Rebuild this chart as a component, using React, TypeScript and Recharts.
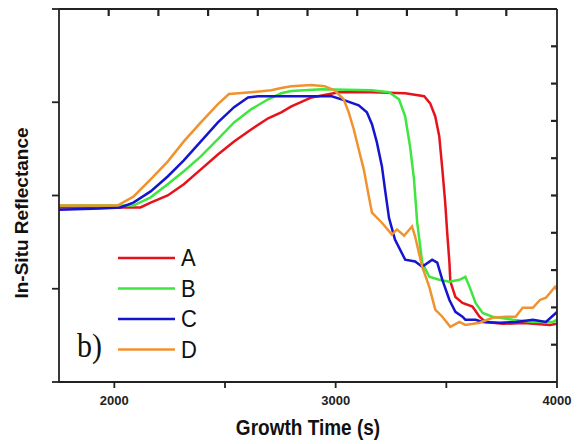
import React from "react";
import { LineChart, Line, XAxis, YAxis } from "recharts";

// growth time (s) vs in-situ reflectance (arb. units)
const seriesA = [
  { t: 1750, r: 4.68 }, { t: 2000, r: 4.68 }, { t: 2118, r: 4.68 }, { t: 2164, r: 4.81 },
  { t: 2241, r: 5.0 }, { t: 2314, r: 5.3 }, { t: 2391, r: 5.7 }, { t: 2468, r: 6.1 },
  { t: 2541, r: 6.45 }, { t: 2618, r: 6.77 }, { t: 2695, r: 7.07 }, { t: 2754, r: 7.23 },
  { t: 2800, r: 7.39 }, { t: 2891, r: 7.63 }, { t: 3014, r: 7.77 }, { t: 3164, r: 7.77 },
  { t: 3314, r: 7.74 }, { t: 3400, r: 7.66 }, { t: 3427, r: 7.47 }, { t: 3450, r: 7.12 },
  { t: 3468, r: 6.59 }, { t: 3482, r: 5.7 }, { t: 3495, r: 4.8 }, { t: 3504, r: 4.0 },
  { t: 3514, r: 3.2 }, { t: 3518, r: 2.7 }, { t: 3541, r: 2.28 }, { t: 3573, r: 2.12 },
  { t: 3618, r: 2.02 }, { t: 3650, r: 1.75 }, { t: 3677, r: 1.61 }, { t: 3755, r: 1.56 },
  { t: 3850, r: 1.58 }, { t: 3968, r: 1.53 }, { t: 4000, r: 1.56 },
];

const seriesB = [
  { t: 1750, r: 4.73 }, { t: 2000, r: 4.73 }, { t: 2086, r: 4.73 }, { t: 2164, r: 4.95 },
  { t: 2241, r: 5.3 }, { t: 2314, r: 5.65 }, { t: 2391, r: 6.05 }, { t: 2468, r: 6.51 },
  { t: 2541, r: 6.96 }, { t: 2618, r: 7.31 }, { t: 2695, r: 7.58 }, { t: 2754, r: 7.74 },
  { t: 2800, r: 7.8 }, { t: 2936, r: 7.85 }, { t: 3164, r: 7.82 }, { t: 3241, r: 7.77 },
  { t: 3286, r: 7.58 }, { t: 3314, r: 7.12 }, { t: 3336, r: 6.32 }, { t: 3354, r: 5.43 },
  { t: 3368, r: 4.3 }, { t: 3391, r: 3.2 }, { t: 3423, r: 2.82 }, { t: 3468, r: 2.74 },
  { t: 3514, r: 2.69 }, { t: 3559, r: 2.74 }, { t: 3586, r: 2.82 }, { t: 3605, r: 2.55 },
  { t: 3632, r: 2.12 }, { t: 3664, r: 1.85 }, { t: 3709, r: 1.75 }, { t: 3741, r: 1.72 },
  { t: 3800, r: 1.67 }, { t: 3891, r: 1.61 }, { t: 3982, r: 1.61 }, { t: 4000, r: 1.67 },
];

const seriesC = [
  { t: 1750, r: 4.62 }, { t: 1936, r: 4.65 }, { t: 2027, r: 4.68 }, { t: 2086, r: 4.81 },
  { t: 2164, r: 5.11 }, { t: 2241, r: 5.51 }, { t: 2314, r: 5.94 }, { t: 2391, r: 6.45 },
  { t: 2468, r: 6.96 }, { t: 2541, r: 7.37 }, { t: 2604, r: 7.63 }, { t: 2650, r: 7.66 },
  { t: 2754, r: 7.66 }, { t: 2859, r: 7.66 }, { t: 2982, r: 7.66 }, { t: 3041, r: 7.55 },
  { t: 3104, r: 7.42 }, { t: 3141, r: 7.23 }, { t: 3164, r: 6.91 }, { t: 3186, r: 6.43 },
  { t: 3209, r: 5.78 }, { t: 3223, r: 5.16 }, { t: 3241, r: 4.4 }, { t: 3268, r: 3.82 },
  { t: 3314, r: 3.28 }, { t: 3359, r: 3.23 }, { t: 3391, r: 3.09 }, { t: 3436, r: 3.28 },
  { t: 3459, r: 3.2 }, { t: 3482, r: 2.74 }, { t: 3514, r: 2.2 }, { t: 3541, r: 1.88 },
  { t: 3573, r: 1.75 }, { t: 3586, r: 1.67 }, { t: 3632, r: 1.67 }, { t: 3664, r: 1.61 },
  { t: 3741, r: 1.59 }, { t: 3813, r: 1.61 }, { t: 3891, r: 1.67 }, { t: 3950, r: 1.61 },
  { t: 3995, r: 1.85 }, { t: 4000, r: 1.88 },
];

const seriesD = [
  { t: 1750, r: 4.73 }, { t: 1936, r: 4.73 }, { t: 2014, r: 4.73 }, { t: 2086, r: 4.97 },
  { t: 2164, r: 5.43 }, { t: 2241, r: 5.91 }, { t: 2314, r: 6.45 }, { t: 2391, r: 6.96 },
  { t: 2468, r: 7.45 }, { t: 2518, r: 7.72 }, { t: 2618, r: 7.77 }, { t: 2709, r: 7.82 },
  { t: 2754, r: 7.88 }, { t: 2800, r: 7.93 }, { t: 2891, r: 7.96 }, { t: 2950, r: 7.93 },
  { t: 2995, r: 7.82 }, { t: 3036, r: 7.58 }, { t: 3059, r: 7.23 }, { t: 3082, r: 6.77 },
  { t: 3104, r: 6.24 }, { t: 3127, r: 5.7 }, { t: 3150, r: 4.97 }, { t: 3164, r: 4.54 },
  { t: 3209, r: 4.27 }, { t: 3254, r: 3.95 }, { t: 3277, r: 4.09 }, { t: 3309, r: 3.92 },
  { t: 3345, r: 4.17 }, { t: 3359, r: 3.9 }, { t: 3391, r: 3.09 }, { t: 3423, r: 2.55 },
  { t: 3450, r: 1.94 }, { t: 3482, r: 1.75 }, { t: 3518, r: 1.48 }, { t: 3559, r: 1.61 },
  { t: 3586, r: 1.53 }, { t: 3650, r: 1.59 }, { t: 3709, r: 1.72 }, { t: 3768, r: 1.75 },
  { t: 3813, r: 1.75 }, { t: 3845, r: 1.99 }, { t: 3891, r: 1.99 }, { t: 3923, r: 2.2 },
  { t: 3950, r: 2.26 }, { t: 3991, r: 2.55 }, { t: 4000, r: 2.47 },
];

const seriesNames = ["A", "B", "C", "D"];
const seriesColors = ["#e4131c", "#3fe63f", "#1515cf", "#f0922e"];
const bottomTicks = [2000, 2500, 3000, 3500, 4000];
const topTicks = [1975, 2200, 2425, 2650, 2875, 3100, 3325, 3550, 3775];
const leftTicks = [0, 2.5, 5, 7.5, 10];
const rightTicks = [1, 2, 3, 4, 5, 6, 7, 8, 9];
const timeDomain: [number, number] = [1750, 4000];
const yDomain: [number, number] = [0, 10];

const AXIS = "#222";
const SANS = "Liberation Sans, Arial, sans-serif";

// plot box, same numbers as the chart margins below
const PLOT_LEFT = 59;
const PLOT_TOP = 10;
const PLOT_W = 497;

function BottomTick({ x, y, payload }: any) {
  if (payload.value % 1000 !== 0) return <g />;
  return (
    <text
      x={x}
      y={y + 15}
      textAnchor="middle"
      fontFamily={SANS}
      fontWeight="bold"
      fontSize={13}
      fill="#222"
    >
      {payload.value}
    </text>
  );
}

// axes that show tick marks but no labels
const NoLabel = () => <g />;

export default function App() {
  const all = [seriesA, seriesB, seriesC, seriesD];
  const toX = (t: number) =>
    PLOT_LEFT + ((t - timeDomain[0]) / (timeDomain[1] - timeDomain[0])) * PLOT_W;
  return (
    <div
      style={{
        position: "absolute",
        left: 0,
        top: 0,
        width: 577,
        height: 444,
        background: "#fff",
        overflow: "hidden",
      }}
    >
      <LineChart
        width={577}
        height={444}
        margin={{ top: 9, right: 20, bottom: 32, left: 58 }}
      >
        <XAxis
          xAxisId="bottom"
          type="number"
          dataKey="t"
          domain={timeDomain}
          ticks={bottomTicks}
          height={30}
          tick={<BottomTick />}
          tickSize={6}
          axisLine={{ stroke: AXIS, strokeWidth: 1.8 }}
          tickLine={{ stroke: AXIS, strokeWidth: 1.8 }}
          allowDataOverflow
        />
        <XAxis
          xAxisId="top"
          orientation="top"
          type="number"
          dataKey="t"
          domain={timeDomain}
          height={1}
          mirror
          tick={NoLabel}
          tickLine={false}
          axisLine={{ stroke: AXIS, strokeWidth: 1.8 }}
          allowDataOverflow
        />
        <YAxis
          yAxisId="left"
          type="number"
          domain={yDomain}
          ticks={leftTicks}
          width={1}
          tick={NoLabel}
          tickSize={7}
          axisLine={{ stroke: AXIS, strokeWidth: 1.8 }}
          tickLine={{ stroke: AXIS, strokeWidth: 1.8 }}
          allowDataOverflow
        />
        <YAxis
          yAxisId="right"
          orientation="right"
          type="number"
          domain={yDomain}
          ticks={rightTicks}
          width={1}
          mirror
          tick={NoLabel}
          tickSize={6}
          axisLine={{ stroke: AXIS, strokeWidth: 1.8 }}
          tickLine={{ stroke: AXIS, strokeWidth: 2.2 }}
          allowDataOverflow
        />
        {all.map((d, i) => (
          <Line
            key={seriesNames[i]}
            xAxisId={i === 3 ? "top" : "bottom"}
            yAxisId="left"
            data={d}
            dataKey="r"
            name={seriesNames[i]}
            type="linear"
            stroke={seriesColors[i]}
            strokeWidth={2.5}
            dot={false}
            activeDot={false}
            isAnimationActive={false}
          />
        ))}
      </LineChart>
      {/* inward tick marks along the top frame */}
      <svg
        width={577}
        height={20}
        style={{ position: "absolute", left: 0, top: 0, pointerEvents: "none" }}
      >
        {topTicks.map((t) => (
          <line
            key={t}
            x1={toX(t)}
            x2={toX(t)}
            y1={PLOT_TOP}
            y2={PLOT_TOP + 6}
            stroke={AXIS}
            strokeWidth={2.2}
          />
        ))}
      </svg>
      <svg
        width={150}
        height={130}
        style={{ position: "absolute", left: 118, top: 240 }}
      >
        {seriesNames.map((name, i) => (
          <g key={name}>
            <line
              x1={0}
              x2={57}
              y1={18 + i * 30.5}
              y2={18 + i * 30.5}
              stroke={seriesColors[i]}
              strokeWidth={2.5}
            />
            <text
              x={63}
              y={26.5 + i * 30.5}
              fontFamily={SANS}
              fontSize={22}
              fill="#111"
              transform={`translate(0 ${26.5 + i * 30.5}) scale(1 1.12) translate(0 ${-(26.5 + i * 30.5)})`}
            >
              {name}
            </text>
          </g>
        ))}
      </svg>
      <div
        style={{
          position: "absolute",
          left: 77,
          top: 331,
          fontFamily: "Liberation Serif, Times New Roman, serif",
          fontSize: 30,
          lineHeight: "34px",
          color: "#111",
          transform: "scaleY(1.15)",
          transformOrigin: "left bottom",
        }}
      >
        b)
      </div>
      <div
        style={{
          position: "absolute",
          left: 0,
          width: 577,
          top: 417,
          textAlign: "center",
          paddingLeft: 39,
          boxSizing: "border-box",
          fontFamily: SANS,
          fontWeight: "bold",
          fontSize: 19,
          lineHeight: "22px",
          color: "#111",
          transform: "scaleY(1.2)",
        }}
      >
        Growth Time (s)
      </div>
      <div
        style={{
          position: "absolute",
          left: 22,
          top: 213,
          transform: "translate(-50%, -50%) rotate(-90deg)",
          whiteSpace: "nowrap",
          fontFamily: SANS,
          fontWeight: "bold",
          fontSize: 19,
          color: "#111",
        }}
      >
        In-Situ Reflectance
      </div>
    </div>
  );
}
